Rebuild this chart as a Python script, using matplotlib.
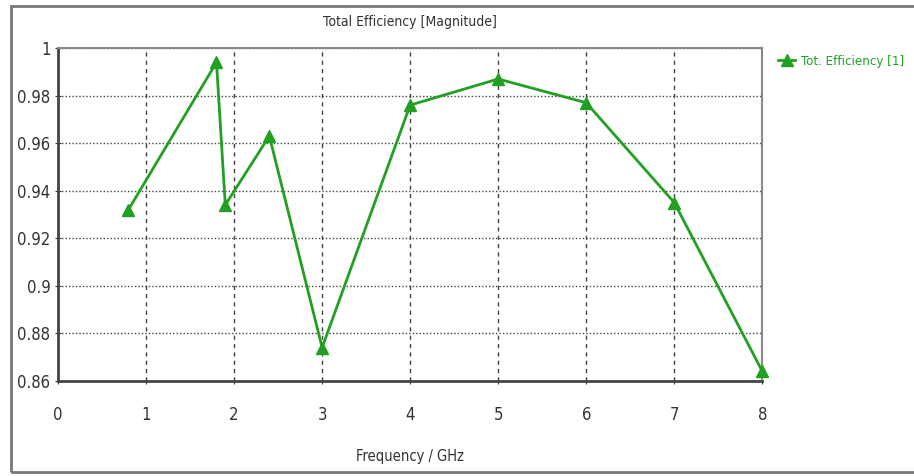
import matplotlib
matplotlib.use("Agg")
import matplotlib.pyplot as plt
from matplotlib.patches import Rectangle

# data
freq_ghz = [0.8, 1.8, 1.9, 2.4, 3.0, 4.0, 5.0, 6.0, 7.0, 8.0]
tot_eff = [0.932, 0.994, 0.934, 0.963, 0.874, 0.976, 0.987, 0.977, 0.935, 0.864]
x_ticks = [0, 1, 2, 3, 4, 5, 6, 7, 8]
y_ticks = [0.86, 0.88, 0.9, 0.92, 0.94, 0.96, 0.98, 1.0]
y_tick_labels = ["0.86", "0.88", "0.9", "0.92", "0.94", "0.96", "0.98", "1"]

plt.rcParams['font.family'] = ['DejaVu Sans']
plt.rcParams['font.stretch'] = 'condensed'

fig = plt.figure(figsize=(9.14, 4.76), dpi=100)
ax = fig.add_axes([0.0635, 0.2, 0.7705, 0.699])

green = "#22a022"
ax.plot(freq_ghz, tot_eff, color=green, lw=2, marker="^", ms=8,
        label="Tot. Efficiency [1]", clip_on=False, zorder=3)

ax.set_xlim(0, 8)
ax.set_ylim(0.86, 1.0)
ax.set_xticks(x_ticks)
ax.set_yticks(y_ticks)
ax.set_yticklabels(y_tick_labels)
ax.tick_params(labelsize=12, colors="#333333", length=4, direction="inout")
ax.tick_params(axis="x", pad=16)

ax.grid(axis="x", color="#444444", ls=(0, (3, 3)), lw=1)
ax.grid(axis="y", color="#444444", ls=(0, (1, 1.5)), lw=1)

for side in ["left", "bottom"]:
    ax.spines[side].set_color("#444444")
    ax.spines[side].set_linewidth(2)
for side in ["top", "right"]:
    ax.spines[side].set_color("#888888")
    ax.spines[side].set_linewidth(1.5)

ax.set_title("Total Efficiency [Magnitude]", fontsize=10, color="#333333", pad=16)
ax.set_xlabel("Frequency / GHz", fontsize=10.5, color="#333333", labelpad=18)

leg = ax.legend(loc="upper left", bbox_to_anchor=(1.015, 0.995), frameon=False,
                fontsize=9.5, handlelength=1.3, handletextpad=0.4, borderaxespad=0)
for t in leg.get_texts():
    t.set_color(green)

# outer frame of the screenshot
fig.patches.append(Rectangle((0.012, 0.008), 1.0, 0.98, transform=fig.transFigure,
                             fill=False, ec="#777777", lw=2))

fig.savefig("out.png", dpi=100)
